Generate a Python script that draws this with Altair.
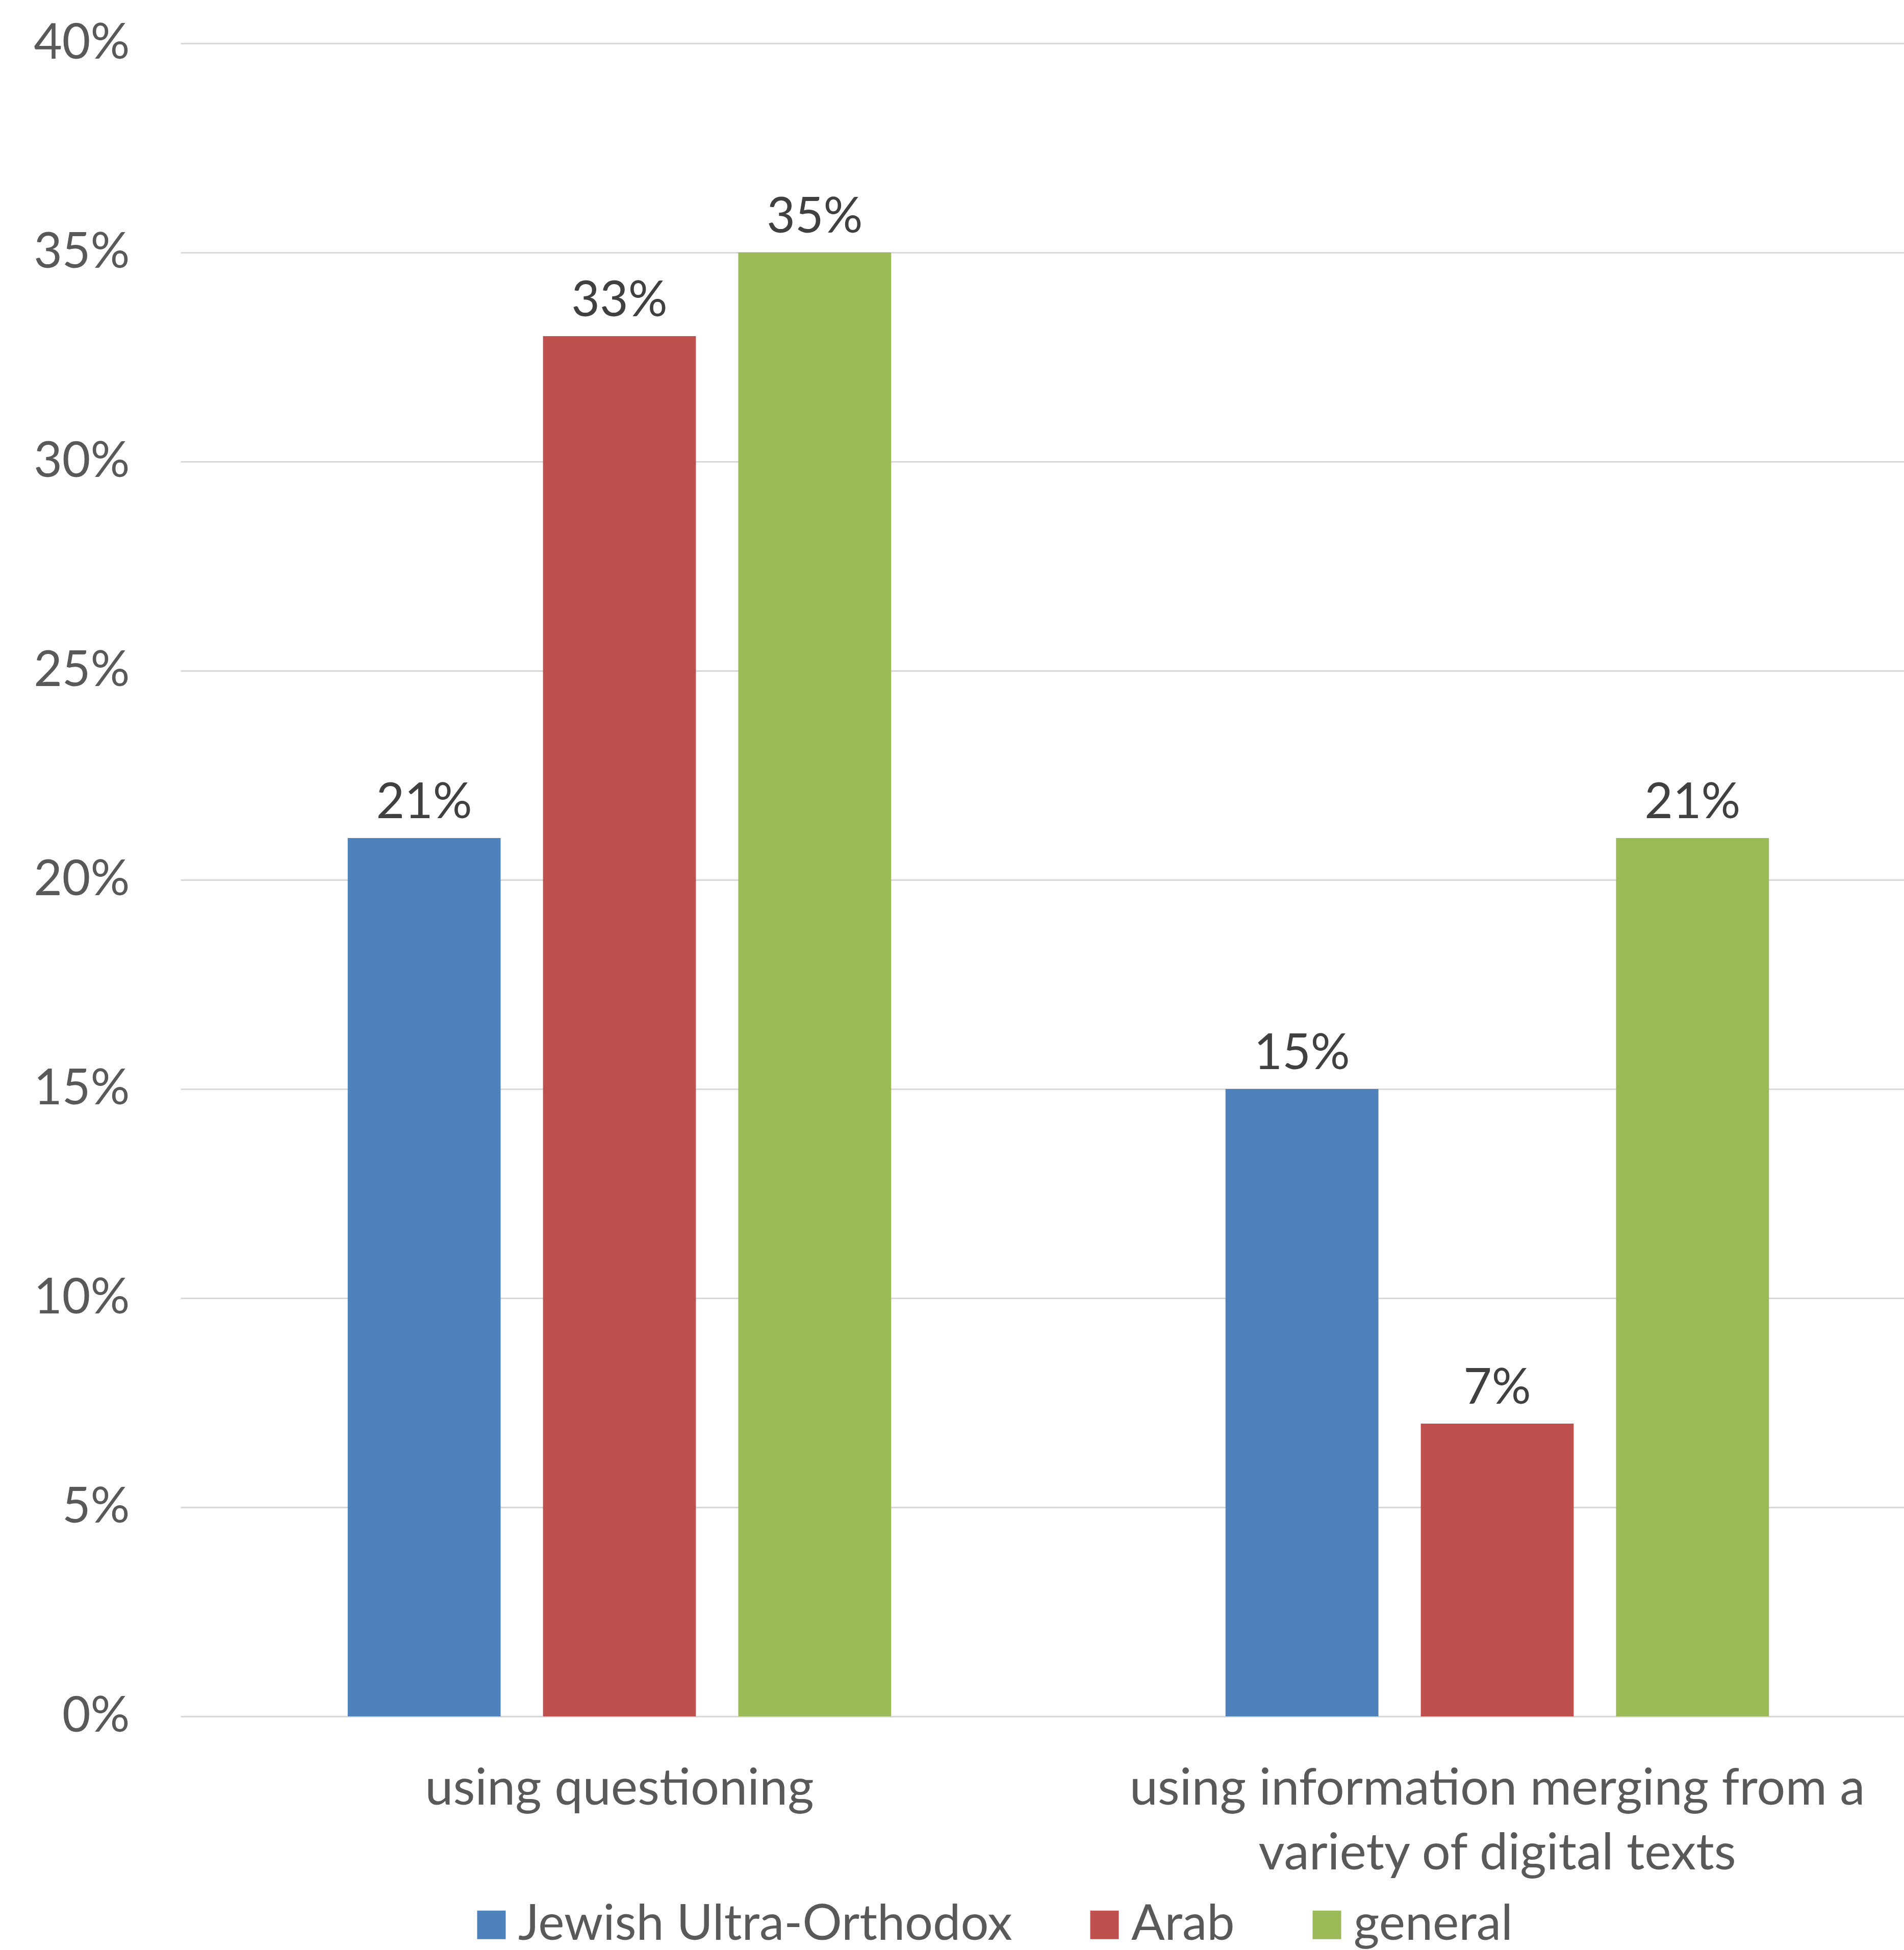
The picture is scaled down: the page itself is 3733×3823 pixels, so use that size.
import altair as alt
import pandas as pd

categories = ["using questioning", "using information merging from a variety of digital texts"]
series = ["Jewish Ultra-Orthodox", "Arab", "general"]
values = {
    "Jewish Ultra-Orthodox": [0.21, 0.15],
    "Arab": [0.33, 0.07],
    "general": [0.35, 0.21],
}
colors = ["#4F81BD", "#C0504D", "#9BBB59"]
y_ticks = [0, 0.05, 0.10, 0.15, 0.20, 0.25, 0.30, 0.35, 0.40]

rows = []
for s in series:
    for c, v in zip(categories, values[s]):
        rows.append({"category": c, "series": s, "value": v})
df = pd.DataFrame(rows)

FONT = "Lato"
FS = 96
XFS = 99
LFS = 97

base = alt.Chart(df).encode(
    x=alt.X(
        "category:N",
        sort=categories,
        scale=alt.Scale(range=[0, 3442], paddingInner=0, paddingOuter=0),
        axis=alt.Axis(
            title=None,
            labelAngle=0,
            ticks=False,
            domain=False,
            grid=False,
            labelFont=FONT,
            labelFontSize=XFS,
            labelColor="#595959",
            labelPadding=94,
            labelLineHeight=127,
            labelLimit=0,
            labelExpr="datum.value == 'using information merging from a variety of digital texts' ? ['using information merging from a', 'variety of digital texts'] : datum.value",
        ),
    ),
    xOffset=alt.XOffset(
        "series:N",
        sort=series,
        scale=alt.Scale(paddingInner=0.217, paddingOuter=0.856),
    ),
    y=alt.Y(
        "value:Q",
        scale=alt.Scale(domain=[0, 0.4], nice=False),
        axis=alt.Axis(
            title=None,
            values=y_ticks,
            format=".0%",
            ticks=False,
            domain=False,
            grid=True,
            gridColor="#D9D9D9",
            gridWidth=3,
            labelFont=FONT,
            labelFontSize=FS,
            labelColor="#595959",
            labelPadding=100,
            labelLimit=0,
        ),
    ),
)

bars = base.mark_bar().encode(
    color=alt.Color(
        "series:N",
        sort=series,
        scale=alt.Scale(domain=series, range=colors),
        legend=alt.Legend(
            title=None,
            orient="none",
            direction="horizontal",
            legendX=561,
            legendY=3640,
            symbolType="square",
            symbolSize=3136,
            symbolStrokeWidth=0,
            labelFont=FONT,
            labelFontSize=LFS,
            labelColor="#595959",
            labelOffset=4,
            columnPadding=132,
            labelLimit=0,
        ),
    )
)

labels = base.mark_text(
    baseline="alphabetic", dy=-39, font=FONT, fontSize=FS, color="#404040"
).encode(text=alt.Text("value:Q", format=".0%"))

chart = (
    alt.layer(bars, labels, view=alt.ViewBackground(stroke="transparent", strokeWidth=0))
    .properties(
        width=3379,
        height=3280,
        autosize=alt.AutoSizeParams(type="none"),
        padding={"left": 354, "top": 85, "right": 0, "bottom": 458},
    )
    .configure_view(strokeWidth=0, strokeOpacity=0, stroke="transparent")
    .configure_axisX(grid=False, domain=False)
    .configure_axisY(domain=False)
    .configure(background="white")
)

chart.save("out.html", embed_options={"renderer": "svg", "actions": False})
